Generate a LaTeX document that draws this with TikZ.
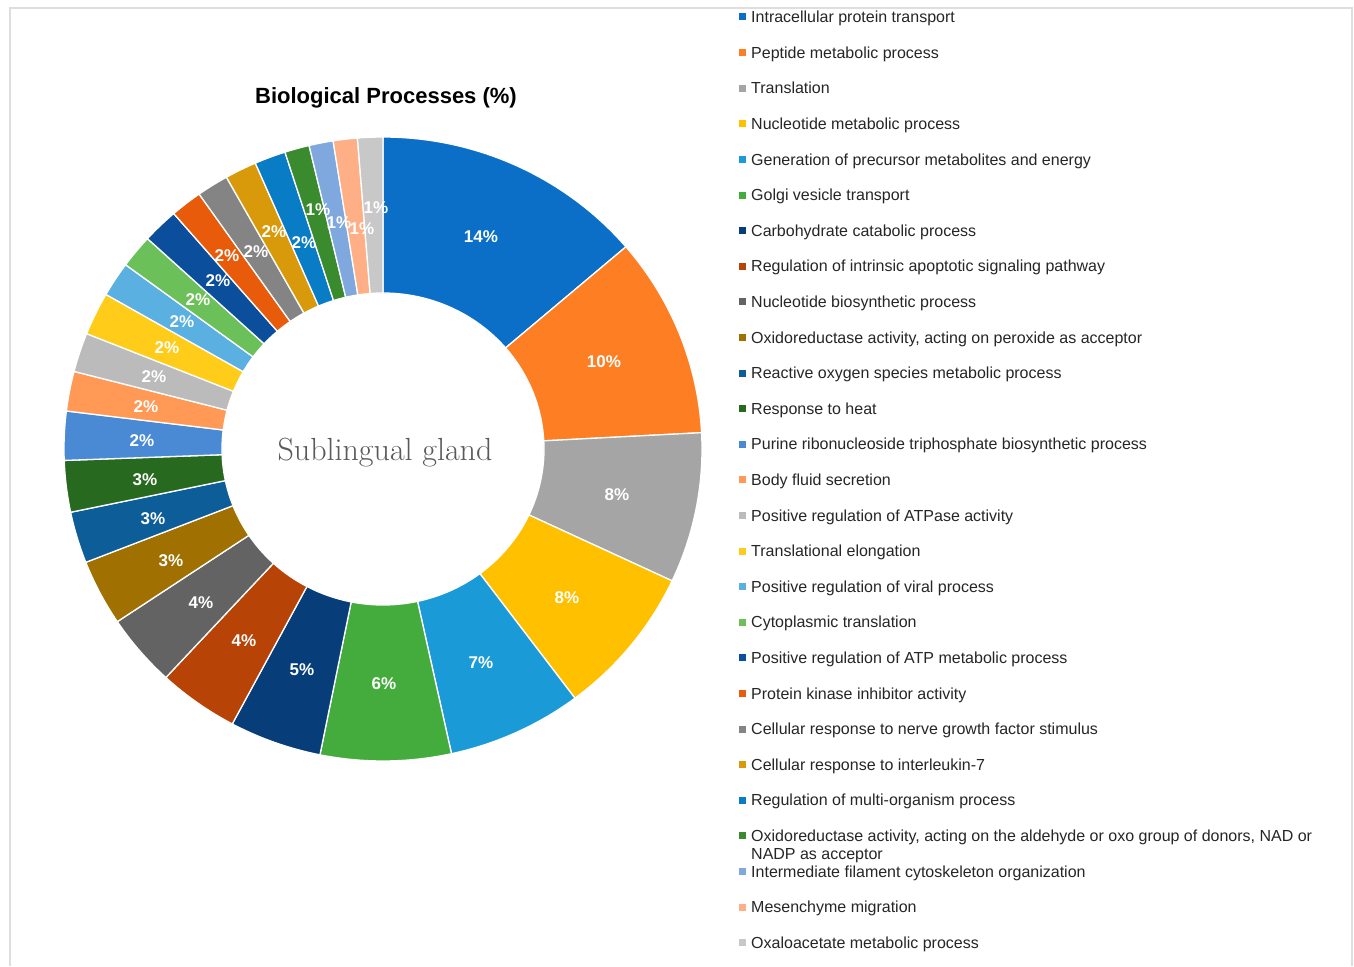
\documentclass[tikz,border=0pt]{standalone}
\usepackage{fontspec}
\setsansfont{Liberation Sans}
\definecolor{framecol}{HTML}{DEDEDE}
\definecolor{legtext}{HTML}{262626}
\definecolor{centertext}{HTML}{5A5A5A}
\definecolor{c1}{HTML}{0B6FC7}
\definecolor{c2}{HTML}{FD7E23}
\definecolor{c3}{HTML}{A5A5A5}
\definecolor{c4}{HTML}{FFC000}
\definecolor{c5}{HTML}{1A9BD7}
\definecolor{c6}{HTML}{43AC3C}
\definecolor{c7}{HTML}{073D78}
\definecolor{c8}{HTML}{B84306}
\definecolor{c9}{HTML}{636363}
\definecolor{c10}{HTML}{A07000}
\definecolor{c11}{HTML}{0D5D99}
\definecolor{c12}{HTML}{276A1F}
\definecolor{c13}{HTML}{4A8AD4}
\definecolor{c14}{HTML}{FF9955}
\definecolor{c15}{HTML}{BBBBBB}
\definecolor{c16}{HTML}{FFCC1A}
\definecolor{c17}{HTML}{5AB0E0}
\definecolor{c18}{HTML}{6CC05A}
\definecolor{c19}{HTML}{0B4E9C}
\definecolor{c20}{HTML}{E85B0A}
\definecolor{c21}{HTML}{848484}
\definecolor{c22}{HTML}{D89A0A}
\definecolor{c23}{HTML}{087CC4}
\definecolor{c24}{HTML}{3A8A2E}
\definecolor{c25}{HTML}{7EA8DE}
\definecolor{c26}{HTML}{FFAF85}
\definecolor{c27}{HTML}{C8C8C8}
\begin{document}
\begin{tikzpicture}[x=1pt,y=1pt,
  seg/.style={fill=#1, draw=white, line width=1.3pt},
  pct/.style={text=white, font=\sffamily\bfseries\fontsize{17}{19}\selectfont, inner sep=0pt},
  legtxt/.style={anchor=base west, font=\sffamily\fontsize{16}{18}\selectfont, text=legtext, inner sep=0pt},
  legbox/.style={fill=#1, minimum size=7pt, inner sep=0pt}]
\useasboundingbox (0,0) rectangle (1354,-966);
\fill[white] (0,0) rectangle (1354,-966);
\draw[framecol, line width=1.5pt] (10,-966) -- (10,-8) -- (1352,-8) -- (1352,-966);
% donut
\def\cx{383}\def\cy{-449}
\foreach \a/\b [count=\i] in {90/40.4, 40.4/3, 3/-25, -25/-53, -53/-77.6, -77.6/-101.4, -101.4/-118.2, -118.2/-132.9, -132.9/-146.4, -146.4/-158.7, -158.7/-168.3, -168.3/-177.9, -177.9/-187, -187/-194.4, -194.4/-201.7, -201.7/-209.7, -209.7/-216.2, -216.2/-222.4, -222.4/-229, -229/-234.8, -234.8/-240.6, -240.6/-246.4, -246.4/-252.1, -252.1/-256.6, -256.6/-261, -261/-265.4, -265.4/-270} {
  \draw[seg=c\i] ({\cx+319*cos(\a)},{\cy+312*sin(\a)}) arc[start angle=\a, end angle=\b, x radius=319pt, y radius=312pt]
     -- ({\cx+161*cos(\b)},{\cy+156*sin(\b)}) arc[start angle=\b, end angle=\a, x radius=161pt, y radius=156pt] -- cycle;
}
% percentage labels
\foreach \x/\y/\t [count=\i] in {481/237/14, 604/362/10, 617/495/8, 567/598/8, 481/663/7, 384/684/6, 302/670/5, 244/641/4, 201/603/4, 171/561/3, 153/519/3, 145/480/3, 142/441/2, 146/407/2, 154/377/2, 167/348/2, 182/322/2, 198/300/2, 218/281/2, 227/256/2, 256/252/2, 274/232/2, 304/243/2, 318/210/1, 339/223/1, 362/229/1, 376/208/1} {
  \node[pct] (p\i) at (\x,-\y) {\t\%};
}
% centre text and title
\node[anchor=base, text=centertext, font=\rmfamily\fontsize{32}{38}\selectfont, inner sep=0pt] (centre) at (385,-460) {Sublingual gland};
\node[anchor=base, font=\sffamily\bfseries\fontsize{22}{26}\selectfont, inner sep=0pt] (title) at (386,-103) {Biological Processes (\%)};
% legend
\foreach \t [count=\i] in {{Intracellular protein transport}, {Peptide metabolic process}, {Translation}, {Nucleotide metabolic process}, {Generation of precursor metabolites and energy}, {Golgi vesicle transport}, {Carbohydrate catabolic process}, {Regulation of intrinsic apoptotic signaling pathway}, {Nucleotide biosynthetic process}, {Oxidoreductase activity, acting on peroxide as acceptor}, {Reactive oxygen species metabolic process}, {Response to heat}, {Purine ribonucleoside triphosphate biosynthetic process}, {Body fluid secretion}, {Positive regulation of ATPase activity}, {Translational elongation}, {Positive regulation of viral process}, {Cytoplasmic translation}, {Positive regulation of ATP metabolic process}, {Protein kinase inhibitor activity}, {Cellular response to nerve growth factor stimulus}, {Cellular response to interleukin-7}, {Regulation of multi-organism process}, {\parbox[t]{620pt}{Oxidoreductase activity, acting on the aldehyde or oxo group of donors, NAD or\\NADP as acceptor}}, {Intermediate filament cytoskeleton organization}, {Mesenchyme migration}, {Oxaloacetate metabolic process}} {
  \pgfmathsetmacro{\yc}{-(17+35.6*(\i-1))}
  \pgfmathsetmacro{\yb}{-(22.7+35.6*(\i-1))}
  \node[legbox=c\i] (b\i) at (742.5,\yc) {};
  \node[legtxt] (l\i) at (751,\yb) {\t};
}
\end{tikzpicture}
\end{document}
